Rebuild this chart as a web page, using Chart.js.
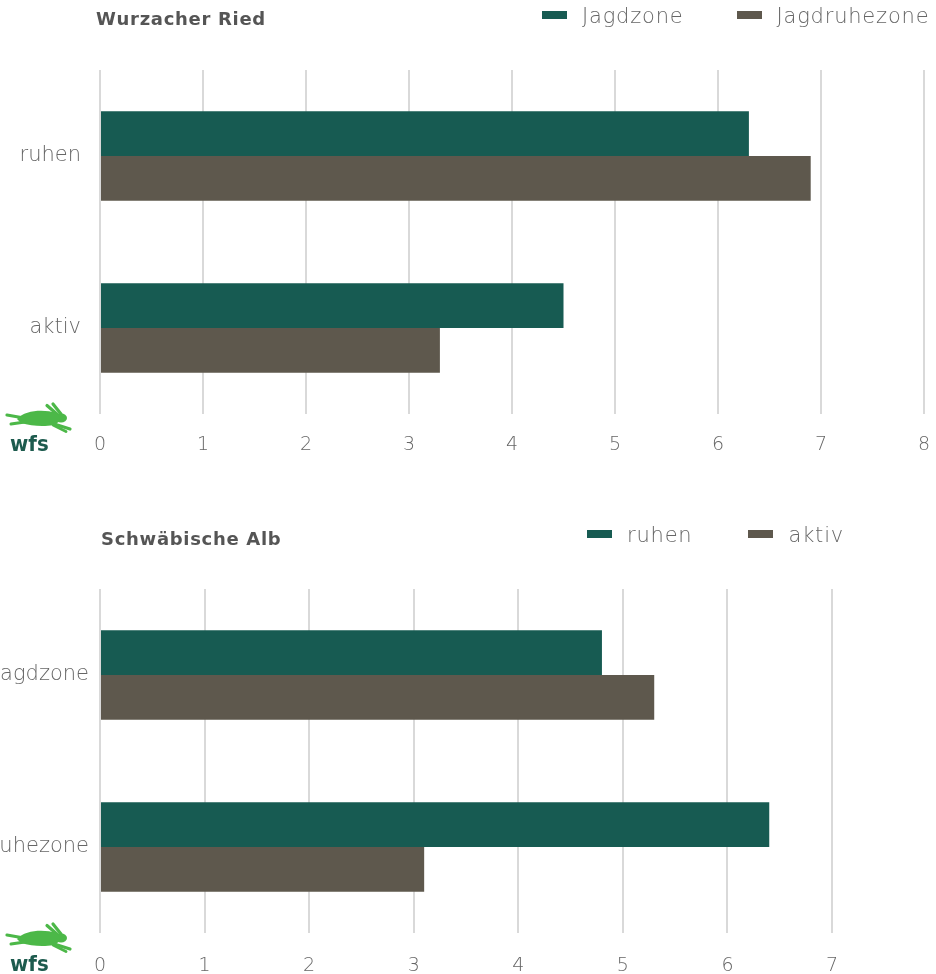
<!DOCTYPE html>
<html>
<head>
<meta charset="utf-8">
<script src="https://cdn.jsdelivr.net/npm/chart.js@4"></script>
<style>
  body { margin: 0; background: #fff; font-family: "DejaVu Sans", sans-serif; }
  #page { position: relative; width: 936px; height: 974px; overflow: hidden; }
  .box { position: absolute; left: 0; width: 936px; height: 487px; }
  .title { position: absolute; font-weight: bold; font-size: 18px; letter-spacing: 0.7px; color: #555; }
  .legend { position: absolute; display: flex; font-size: 21px; letter-spacing: 0.8px; color: #666; font-weight: 200; line-height: 28px; }
  .legend span.sw { display: inline-block; width: 25px; height: 8px; margin-right: 15px; vertical-align: middle; position: relative; top: -2px; }
  .legend .item { white-space: nowrap; }
  .logo { position: absolute; left: 4px; width: 70px; height: 52px; }
</style>
</head>
<body>
<div id="page">
  <div class="box" style="top:0"><canvas id="chartTop" width="936" height="487"></canvas></div>
  <div class="box" style="top:487px"><canvas id="chartBottom" width="936" height="487"></canvas></div>
  <div class="title" style="left:96px; top:8px">Wurzacher Ried</div>
  <div class="title" style="left:101px; top:528px">Schwäbische Alb</div>
  <div class="legend" id="legendTop" style="left:542px; top:2px"></div>
  <div class="legend" id="legendBottom" style="left:587px; top:521px"></div>
  <div id="logo1" class="logo" style="top:401px"></div>
  <div id="logo2" class="logo" style="top:921px"></div>
</div>
<script>
// Wurzacher Ried data
const wurzCategories = ['ruhen', 'aktiv'];
const wurzJagdzone = [6.3, 4.5];
const wurzJagdruhezone = [6.9, 3.3];

// Schwäbische Alb data
const albCategories = ['Jagdzone', 'Jagdruhezone'];
const albRuhen = [4.8, 6.4];
const albAktiv = [5.3, 3.1];

const green = '#175b52';
const brown = '#5e584d';
const gridColor = '#d9d9d9';
const tickFont = { family: 'DejaVu Sans', size: 19, weight: '200' };
const catFont = { family: 'DejaVu Sans', size: 21, weight: '200' };

// Hare logo, drawn as svg
const logoSvg = `<svg width="70" height="52" viewBox="0 0 70 52">
  <g fill="#4cb848" stroke="#4cb848" stroke-linecap="round">
    <path d="M54 14 L43 4.5" stroke-width="3.2" fill="none"/>
    <path d="M57 13 L49 3" stroke-width="3.2" fill="none"/>
    <ellipse cx="57" cy="17" rx="6" ry="4.5" stroke="none"/>
    <path d="M13 18 C21 9 40 8 52 12 C57 16 56 23 49 24 C40 26 27 25 17 22 Z" stroke="none"/>
    <path d="M20 17 L3 14" stroke-width="3.2" fill="none"/>
    <path d="M21 21 L7 23" stroke-width="3" fill="none"/>
    <path d="M47 22 L66 28" stroke-width="3.2" fill="none"/>
    <path d="M49 24 L62 30.5" stroke-width="2.8" fill="none"/>
  </g>
  <text x="6" y="50" font-family="Liberation Sans Narrow, DejaVu Sans Condensed, sans-serif" font-weight="bold" font-size="22" fill="#1d5b4e">wfs</text>
</svg>`;
document.getElementById('logo1').innerHTML = logoSvg;
document.getElementById('logo2').innerHTML = logoSvg;

function buildLegend(id, datasets, gap) {
    const div = document.getElementById(id);
    datasets.forEach((ds, i) => {
        const item = document.createElement('div');
        item.className = 'item';
        if (i > 0) item.style.marginLeft = gap + 'px';
        item.innerHTML = `<span class="sw" style="background:${ds.backgroundColor}"></span>${ds.label}`;
        div.appendChild(item);
    });
}

function createBarChart(canvasId, labels, datasets, maxValue, padRight, padTop, axisHeight, tickPad, yPad) {
    const ctx = document.getElementById(canvasId).getContext('2d');
    return new Chart(ctx, {
        type: 'bar',
        data: { labels: labels, datasets: datasets },
        options: {
            indexAxis: 'y',
            responsive: false,
            animation: false,
            layout: { padding: { top: padTop, right: padRight, left: 0, bottom: 0 } },
            datasets: { bar: { categoryPercentage: 0.52, barPercentage: 1.0 } },
            scales: {
                x: {
                    min: 0,
                    max: maxValue,
                    ticks: { stepSize: 1, color: '#666', font: tickFont, padding: tickPad },
                    grid: { color: gridColor, lineWidth: 2, drawTicks: false },
                    border: { display: false },
                    afterFit: scale => {
                        scale.height = axisHeight;
                        scale.paddingLeft = 0;
                        scale.paddingRight = 0;
                    }
                },
                y: {
                    ticks: { color: '#666', font: catFont, padding: yPad },
                    grid: { display: false, drawTicks: false },
                    border: { display: false },
                    afterFit: scale => {
                        scale.width = 100;
                        scale.paddingTop = 0;
                        scale.paddingBottom = 0;
                    }
                }
            },
            plugins: {
                legend: { display: false },
                tooltip: { enabled: false }
            }
        }
    });
}

const topSets = [
    { label: 'Jagdzone', data: wurzJagdzone, backgroundColor: green },
    { label: 'Jagdruhezone', data: wurzJagdruhezone, backgroundColor: brown }
];
const bottomSets = [
    { label: 'ruhen', data: albRuhen, backgroundColor: green },
    { label: 'aktiv', data: albAktiv, backgroundColor: brown }
];

createBarChart('chartTop', wurzCategories, topSets, 8, 12, 70, 73, 20, 19);
createBarChart('chartBottom', albCategories, bottomSets, 7, 104, 102, 41, 22, 11);

buildLegend('legendTop', topSets, 53);
buildLegend('legendBottom', bottomSets, 56);
</script>
</body>
</html>
